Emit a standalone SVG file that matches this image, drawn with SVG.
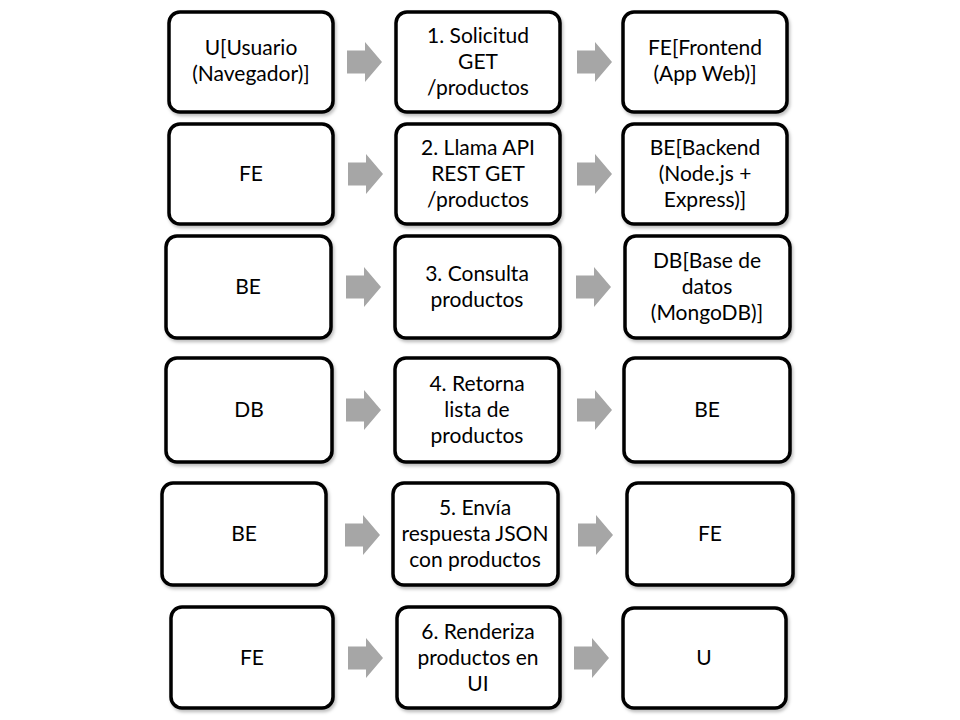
<svg xmlns="http://www.w3.org/2000/svg" xmlns:xlink="http://www.w3.org/1999/xlink" width="960" height="720" viewBox="0 0 960 720">
<style>
.box{fill:#fff;stroke:#000;stroke-width:3.5;filter:url(#sh)}
.t{font-family:Lato,"Liberation Sans",sans-serif;font-size:21px;fill:#000;text-anchor:middle}
.arr{fill:#a6a6a6}
</style>
<defs>
<filter id="sh" x="-10%" y="-10%" width="125%" height="130%">
<feDropShadow dx="1.5" dy="2.5" stdDeviation="1.5" flood-color="#000" flood-opacity="0.25"/>
</filter>
<path id="arr" d="M0,-11.5 H18 V-20 L35,0 L18,20 V11.5 H0 Z"/>
</defs>
<rect width="960" height="720" fill="#fff"/>
<g id="connectors" class="arr">
<use xlink:href="#arr" x="347" y="62"/><use xlink:href="#arr" x="577" y="62"/>
<use xlink:href="#arr" x="348" y="174"/><use xlink:href="#arr" x="577" y="174"/>
<use xlink:href="#arr" x="346" y="287"/><use xlink:href="#arr" x="576" y="287"/>
<use xlink:href="#arr" x="346" y="410"/><use xlink:href="#arr" x="577" y="410"/>
<use xlink:href="#arr" x="345" y="535"/><use xlink:href="#arr" x="578" y="535"/>
<use xlink:href="#arr" x="348" y="658"/><use xlink:href="#arr" x="574" y="658"/>
</g>
<g id="n1a"><rect class="box" x="169" y="12" width="164" height="100" rx="11"/><text class="t" x="251" y="55">U[Usuario</text><text class="t" x="251" y="81">(Navegador)]</text></g>
<g id="n1b"><rect class="box" x="396" y="12" width="164" height="100" rx="11"/><text class="t" x="478" y="43">1. Solicitud</text><text class="t" x="478" y="69">GET</text><text class="t" x="478" y="95">/productos</text></g>
<g id="n1c"><rect class="box" x="623" y="12" width="164" height="100" rx="11"/><text class="t" x="705" y="55">FE[Frontend</text><text class="t" x="705" y="81">(App Web)]</text></g>

<g id="n2a"><rect class="box" x="169" y="124" width="164" height="100" rx="11"/><text class="t" x="251" y="181">FE</text></g>
<g id="n2b"><rect class="box" x="396" y="124" width="164" height="100" rx="11"/><text class="t" x="478" y="155">2. Llama API</text><text class="t" x="478" y="181">REST GET</text><text class="t" x="478" y="207">/productos</text></g>
<g id="n2c"><rect class="box" x="623" y="124" width="164" height="100" rx="11"/><text class="t" x="705" y="155">BE[Backend</text><text class="t" x="705" y="181">(Node.js +</text><text class="t" x="705" y="207">Express)]</text></g>

<g id="n3a"><rect class="box" x="166" y="236" width="165" height="102" rx="11"/><text class="t" x="248" y="294">BE</text></g>
<g id="n3b"><rect class="box" x="395" y="236" width="165" height="102" rx="11"/><text class="t" x="477" y="281">3. Consulta</text><text class="t" x="477" y="307">productos</text></g>
<g id="n3c"><rect class="box" x="625" y="236" width="165" height="102" rx="11"/><text class="t" x="707" y="268">DB[Base de</text><text class="t" x="707" y="294">datos</text><text class="t" x="707" y="320">(MongoDB)]</text></g>

<g id="n4a"><rect class="box" x="166" y="358" width="166" height="104" rx="11"/><text class="t" x="249" y="417">DB</text></g>
<g id="n4b"><rect class="box" x="395" y="358" width="164" height="104" rx="11"/><text class="t" x="477" y="391">4. Retorna</text><text class="t" x="477" y="417">lista de</text><text class="t" x="477" y="443">productos</text></g>
<g id="n4c"><rect class="box" x="624" y="358" width="166" height="104" rx="11"/><text class="t" x="707" y="417">BE</text></g>

<g id="n5a"><rect class="box" x="162" y="483" width="164" height="102" rx="11"/><text class="t" x="244" y="541">BE</text></g>
<g id="n5b"><rect class="box" x="393" y="483" width="165" height="102" rx="11"/><text class="t" x="475" y="515">5. Envía</text><text class="t" x="475" y="541">respuesta JSON</text><text class="t" x="475" y="567">con productos</text></g>
<g id="n5c"><rect class="box" x="627" y="483" width="166" height="102" rx="11"/><text class="t" x="710" y="541">FE</text></g>

<g id="n6a"><rect class="box" x="171" y="607" width="162" height="101" rx="11"/><text class="t" x="252" y="665">FE</text></g>
<g id="n6b"><rect class="box" x="397" y="607" width="163" height="101" rx="11"/><text class="t" x="478" y="639">6. Renderiza</text><text class="t" x="478" y="665">productos en</text><text class="t" x="478" y="691">UI</text></g>
<g id="n6c"><rect class="box" x="623" y="608" width="163" height="100" rx="11"/><text class="t" x="704" y="665">U</text></g>
</svg>
